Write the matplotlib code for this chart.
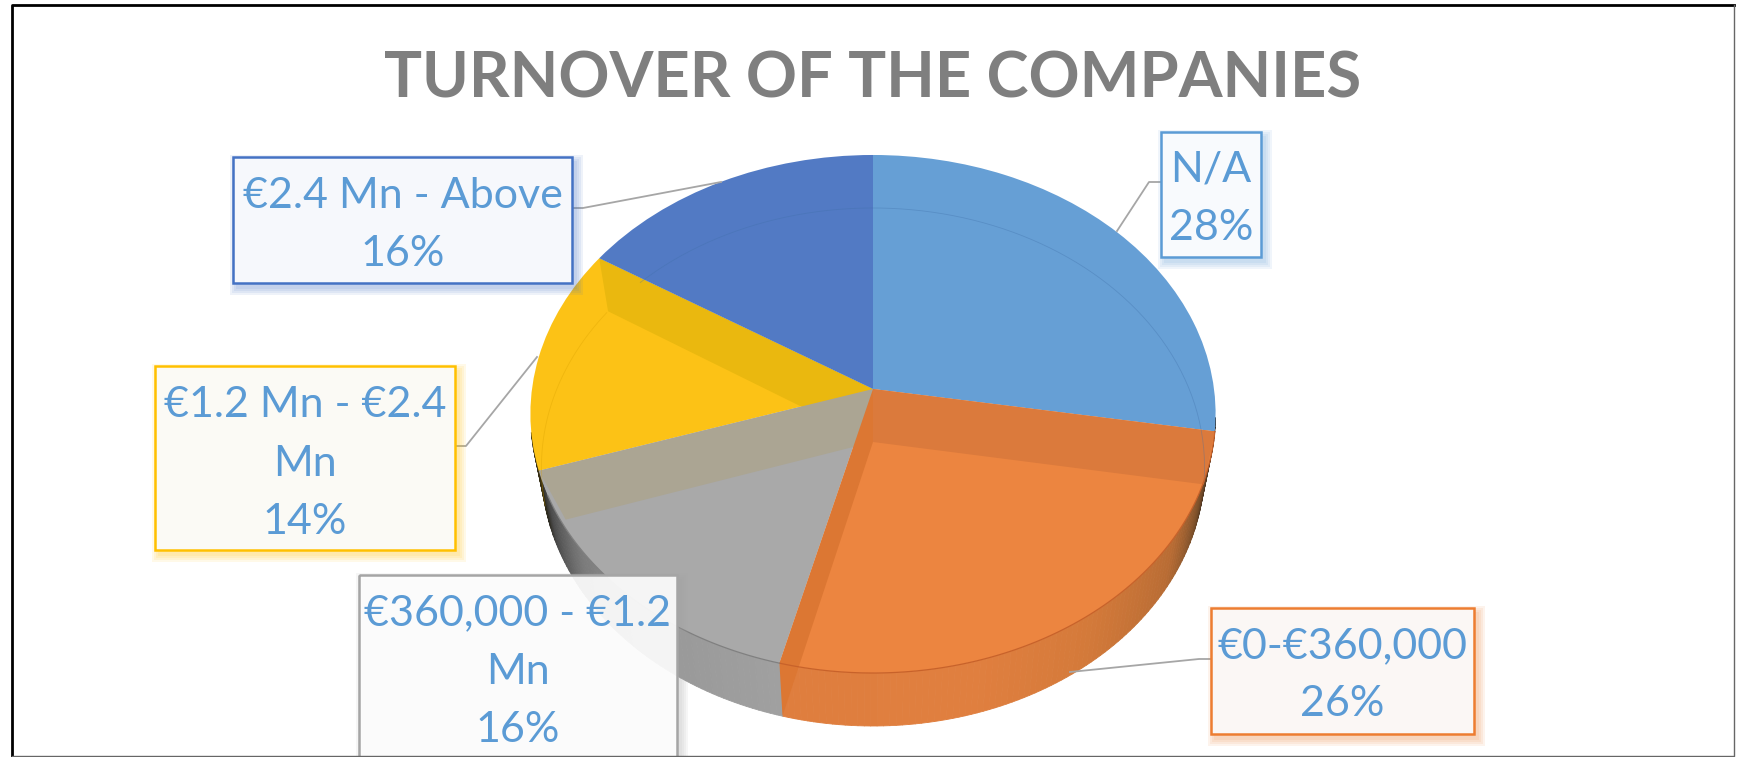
import numpy as np
import matplotlib
matplotlib.use("Agg")
import matplotlib.pyplot as plt
from matplotlib.collections import PolyCollection
from matplotlib.patches import Polygon, Rectangle
from matplotlib.transforms import Transform

W, H = 1737, 757

title = "TURNOVER OF THE COMPANIES"
categories = ["N/A", "€0-€360,000", "€360,000 - €1.2\nMn", "€1.2 Mn - €2.4\nMn", "€2.4 Mn - Above"]
shares = [27.6, 26.4, 16, 14, 16]
colors = ["#669FD5", "#EC8540", "#A9A9A9", "#FCC216", "#527AC4"]
box_fills = ["#F8FAFD", "#FBF7F5", "#FFFFFF", "#FBFAF5", "#F6F8FC"]
box_edges = ["#5B9BD5", "#ED7D31", "#A5A5A5", "#FFC000", "#4472C4"]


class Persp(Transform):
    # tilted disc, unit circle to pixels
    input_dims = 2
    output_dims = 2

    def __init__(self, cx, cy, rx, ry, k):
        super().__init__()
        self.cx, self.cy, self.rx, self.ry, self.k = cx, cy, rx, ry, k

    def transform_non_affine(self, values):
        values = np.asarray(values)
        d = 1 + self.k * values[:, 1]
        return np.column_stack([self.cx + self.rx * values[:, 0] / d,
                                self.cy - self.ry * values[:, 1] / d])


top = Persp(873, 389, 341, 256.6, 0.0965)
low = Persp(873, 442, 330, 256.6, 0.0965)


def unit(deg):
    # degrees clockwise from 12 o'clock
    a = np.radians(np.atleast_1d(deg))
    return np.column_stack([np.sin(a), np.cos(a)])


def rim(tr, deg):
    return tr.transform_non_affine(unit(deg))


def mix(stops, t):
    xs = [s[0] for s in stops]
    rgb = np.array([matplotlib.colors.to_rgb(s[1]) for s in stops])
    return [np.interp(t, xs, rgb[:, i]) for i in range(3)]


fig = plt.figure(figsize=(W / 100, H / 100), dpi=100)
ax = fig.add_axes([0, 0, 1, 1])

edges = np.cumsum([0] + shares) * 3.6

# outside wall of the pie
wall_stops = [(edges[1] - 3, "#221C14"), (edges[1] + 4, "#3A2A1C"), (edges[1] + 12, "#7A4F2A"),
              (edges[1] + 24, "#B86C34"), (edges[1] + 45, "#D47A3A"), (edges[1] + 65, "#E07F3F"),
              (edges[2] - 0.1, "#DF7E3E"), (edges[2] + 0.1, "#A0A0A0"), (edges[2] + 22, "#989898"),
              (edges[2] + 40, "#7A7A7A"), (edges[3] - 5, "#4A4A4A"), (edges[3] + 1, "#2C2A20"),
              (edges[3] + 8, "#3A3010")]
angles = np.arange(edges[1] - 3, edges[3] + 8, 1.0)
quads, quad_colors = [], []
for a0 in angles:
    pts = [rim(top, a0)[0], rim(top, a0 + 1)[0], rim(low, a0 + 1)[0], rim(low, a0)[0]]
    quads.append(pts)
    quad_colors.append(mix(wall_stops, a0 + 0.5))
ax.add_collection(PolyCollection(quads, facecolors=quad_colors, edgecolors=quad_colors, linewidths=0.6))

# top face
wedges, _ = ax.pie(shares, colors=colors, startangle=90, counterclock=False, radius=1, frame=False)
for w in wedges:
    w.set_transform(top + ax.transData)
    w.set_zorder(2)


# inner walls seen through the top
def inner_wall(deg, color, z=3, frac=1.0):
    p0 = top.transform_non_affine(np.array([[0.0, 0.0]]))[0]
    p3 = low.transform_non_affine(np.array([[0.0, 0.0]]))[0]
    p2 = p3 + (rim(low, deg)[0] - p3) * frac
    pts = [p0, rim(top, deg)[0], p2, p3]
    ax.add_patch(Polygon(pts, closed=True, facecolor=color, edgecolor="none", zorder=z))


inner_wall(edges[4], "#EAB80F", 3)
inner_wall(edges[3], "#ABA593", 3, frac=0.95)
# blue slice sits above the yellow wall
wedges[4].set_zorder(3.5)
inner_wall(edges[1], "#DB7A3C", 4)
inner_wall(edges[2], "#DC7733", 5)

# bottom rim through the top, faint
back = np.arange(edges[4] + 9, edges[1] + 360, 1.0)
p = rim(low, back)
ax.plot(p[:, 0], p[:, 1], color="#3F6FA8", lw=0.6, alpha=0.35, zorder=6)
back = np.arange(edges[3] + 4, edges[4] + 0.5, 1.0)
p = rim(low, back)
ax.plot(p[:, 0], p[:, 1], color="#D9A000", lw=0.6, alpha=0.35, zorder=6)

front = np.arange(edges[1], edges[2] + 0.5, 1.0)
p = rim(top, front)
ax.plot(p[:, 0], p[:, 1], color="#C8622A", lw=0.9, zorder=6)
front = np.arange(edges[2], edges[3] - 5, 1.0)
p = rim(top, front)
ax.plot(p[:, 0], p[:, 1], color="#808080", lw=0.9, zorder=6)

# leader lines
leaders = [[(1117, 231), (1149, 182), (1161, 182)],
           [(1070, 672), (1199, 659), (1211, 659)],
           None,
           [(537, 357), (466, 446), (455, 446)],
           [(721, 182), (583, 208), (572, 208)]]
for pts in leaders:
    if pts:
        ax.plot(*zip(*pts), color="#A6A6A6", lw=1.3, zorder=7)

# label boxes: x0, x1, y0, y1, y of the first text line
boxes = [(1161, 1261, 132, 257, 170),
         (1211, 1474, 608, 734, 646),
         (359, 677, 575, 775, 613),
         (155, 455, 366, 550, 405),
         (233, 572, 157, 283, 196)]
for cat, share, box, fill, edge in zip(categories, shares, boxes, box_fills, box_edges):
    x0, x1, y0, y1, ty = box
    for grow in (7, 5, 3, 1):
        ax.add_patch(Rectangle((x0 + 4 - grow, y0 + 5 - grow), x1 - x0 + 2 * grow, y1 - y0 + 2 * grow,
                               facecolor=edge, edgecolor="none", alpha=0.09, zorder=8))
    ax.add_patch(Rectangle((x0, y0), x1 - x0, y1 - y0, facecolor=fill, edgecolor="none",
                           alpha=0.9 if fill == "#FFFFFF" else 1, zorder=9))
    ax.add_patch(Rectangle((x0, y0), x1 - x0, y1 - y0, facecolor="none", edgecolor=edge, lw=1.8, zorder=10))
    lines = cat.split("\n") + [f"{share:.0f}%"]
    for i, line in enumerate(lines):
        ax.text((x0 + x1) / 2, ty + i * 58.5, line, ha="center", va="center", color="#5B9BD5",
                fontsize=31, family="Lato", zorder=11, clip_on=True)

ax.text(873, 79, title, ha="center", va="center", color="#7F7F7F", fontsize=45.5,
        family="Lato", fontweight="bold", zorder=11)

# outer frame
ax.plot([12, 12, 1734], [H, 5, 5], color="black", lw=2, zorder=12)
ax.plot([1734, 1734, 12], [5, 755.5, 755.5], color="#666666", lw=1, zorder=12)

ax.set_xlim(0, W)
ax.set_ylim(H, 0)
ax.set_aspect("auto")
ax.axis("off")

plt.savefig("out.png", dpi=100, facecolor="white")
